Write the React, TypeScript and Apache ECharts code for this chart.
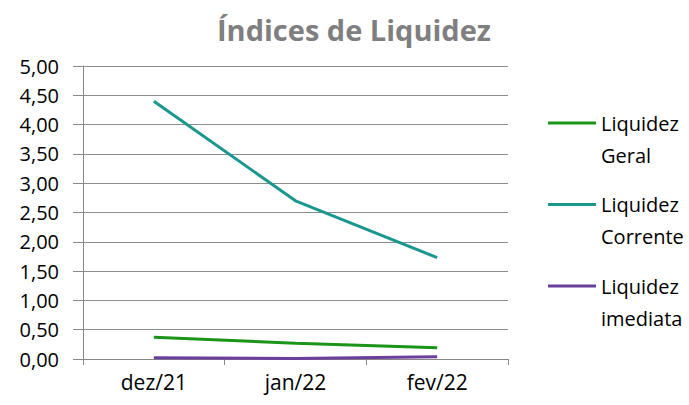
import React, { useEffect, useRef } from "react";
import * as echarts from "echarts";

const categories = ["dez/21", "jan/22", "fev/22"];
const liquidezGeral = [0.37, 0.27, 0.19];
const liquidezCorrente = [4.4, 2.7, 1.73];
const liquidezImediata = [0.02, 0.01, 0.04];
const seriesNames = ["Liquidez Geral", "Liquidez Corrente", "Liquidez imediata"];
const colors = ["#1a951a", "#1a978f", "#6b3f9c"];

export default function App() {
  const ref = useRef<HTMLDivElement>(null);
  useEffect(() => {
    if (!ref.current) return;
    const chart = echarts.init(ref.current, null, { renderer: "svg" });
    const font = "'Open Sans', 'Noto Sans', sans-serif";
    const mk = (name: string, data: number[], color: string) => ({
      name,
      type: "line",
      data,
      symbol: "none",
      lineStyle: { color, width: 3 },
      itemStyle: { color },
    });
    chart.setOption({
      animation: false,
      backgroundColor: "#ffffff",
      title: {
        text: "Índices de Liquidez",
        left: 349,
        textAlign: "center",
        top: 10,
        textStyle: { fontSize: 29, fontWeight: "bold", color: "#7f7f7f", fontFamily: font },
      },
      grid: { left: 83, right: 181, top: 66, bottom: 46 },
      legend: {
        orient: "vertical",
        left: 543,
        top: 70,
        itemWidth: 48,
        itemHeight: 3,
        itemGap: -14.5,
        icon: "rect",
        data: seriesNames,
        formatter: (n: string) => "\n" + n.replace(" ", "\n"),
        textStyle: {
          fontSize: 20,
          color: "#000",
          fontFamily: font,
          lineHeight: 32,
        },
      },
      xAxis: {
        type: "category",
        data: categories,
        boundaryGap: true,
        axisLine: { lineStyle: { color: "#888", width: 1 } },
        axisTick: { show: true, length: 6, lineStyle: { color: "#888" } },
        axisLabel: { fontSize: 21, color: "#000", margin: 12, fontFamily: font },
      },
      yAxis: {
        type: "value",
        min: 0,
        max: 5,
        interval: 0.5,
        axisLine: { show: true, lineStyle: { color: "#888", width: 1 } },
        axisTick: { show: true, length: 10, lineStyle: { color: "#888" } },
        axisLabel: {
          fontSize: 20,
          color: "#000",
          margin: 24,
          fontFamily: font,
          formatter: (v: number) => v.toFixed(2).replace(".", ","),
        },
        splitLine: { lineStyle: { color: "#8c8c8c", width: 1 } },
      },
      series: [
        mk(seriesNames[0], liquidezGeral, colors[0]),
        mk(seriesNames[1], liquidezCorrente, colors[1]),
        mk(seriesNames[2], liquidezImediata, colors[2]),
      ],
    });
    return () => chart.dispose();
  }, []);
  return <div ref={ref} style={{ width: 689, height: 405, position: "absolute", left: 0, top: 0 }} />;
}
